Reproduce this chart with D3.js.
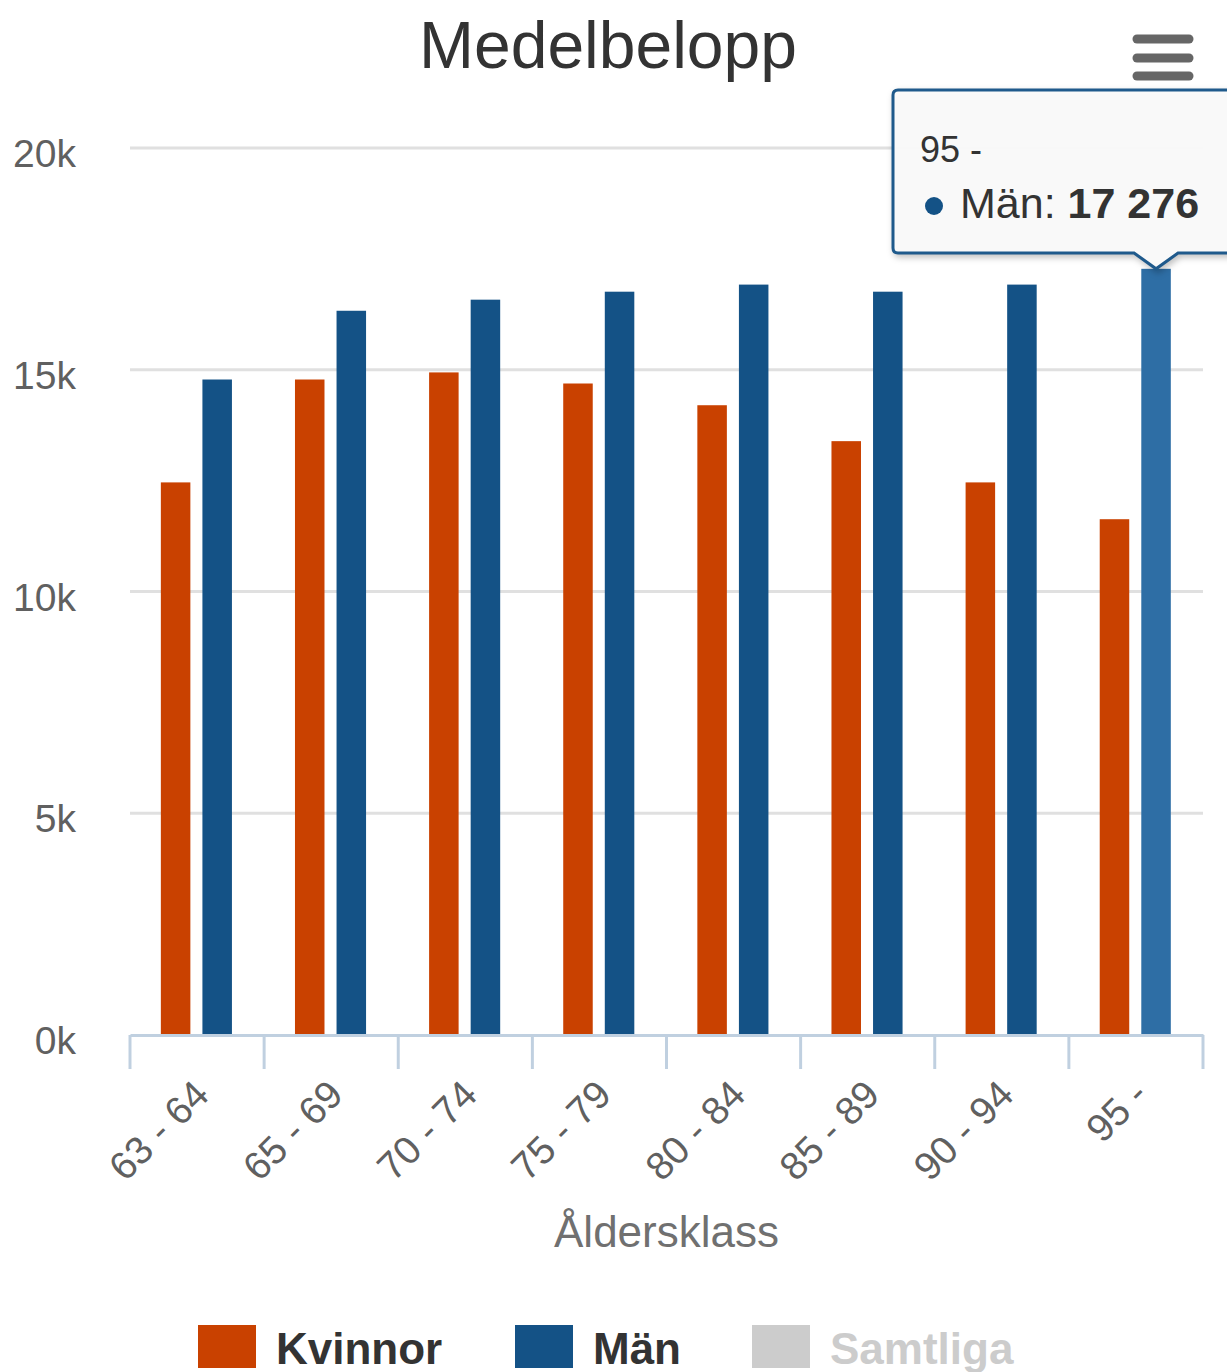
<!DOCTYPE html>
<html>
<head>
<meta charset="utf-8">
<script src="https://cdn.jsdelivr.net/npm/d3@7"></script>
<style>
    body { margin: 0; background: #fff; }
    svg { font-family: "Liberation Sans", Arial, Helvetica, sans-serif; }
</style>
</head>
<body>
<div id="chart"></div>
<script>
//Categories and values
const categories = ["63 - 64", "65 - 69", "70 - 74", "75 - 79", "80 - 84", "85 - 89", "90 - 94", "95 -"];
const kvinnor = [12460, 14780, 14940, 14690, 14200, 13390, 12460, 11630];
const man = [14780, 16330, 16580, 16760, 16920, 16760, 16920, 17276];
const seriesNames = ["Kvinnor", "Män", "Samtliga"];
const seriesColors = ["#c94100", "#145286", "#cccccc"];
const yTicks = [0, 5000, 10000, 15000, 20000];

function main() {
    const width = 1227, height = 1372;
    const margin = { top: 148, right: 24, bottom: 337, left: 130 };

    const svg = d3.select("#chart")
        .append("svg")
        .attr("width", width)
        .attr("height", height);

    //Title
    svg.append("text")
        .text("Medelbelopp")
        .attr("x", 608)
        .attr("y", 68)
        .attr("text-anchor", "middle")
        .attr("font-size", 66)
        .style("fill", "#333");

    //Menu icon
    [39, 58, 76].forEach(y => {
        svg.append("line")
            .attr("x1", 1137).attr("x2", 1189)
            .attr("y1", y).attr("y2", y)
            .attr("stroke", "#666")
            .attr("stroke-width", 9)
            .attr("stroke-linecap", "round");
    });

    const x = d3.scaleBand()
        .domain(categories)
        .range([margin.left, width - margin.right]);

    const x1 = d3.scaleBand()
        .domain([0, 1])
        .range([x.bandwidth() * 0.23, x.bandwidth() * 0.76])
        .paddingInner(0.29);

    const y = d3.scaleLinear()
        .domain([0, 20000])
        .range([height - margin.bottom, margin.top]);

    //Grid lines
    svg.append("g")
        .selectAll("line")
        .data(yTicks.slice(1))
        .enter()
        .append("line")
        .attr("x1", margin.left)
        .attr("x2", width - margin.right)
        .attr("y1", d => y(d))
        .attr("y2", d => y(d))
        .attr("stroke", "#e0e0e0")
        .attr("stroke-width", 3);

    //Y labels
    svg.append("g")
        .selectAll("text")
        .data(yTicks)
        .enter()
        .append("text")
        .text(d => (d / 1000) + "k")
        .attr("x", 76)
        .attr("y", d => y(d) + 19)
        .attr("text-anchor", "end")
        .attr("font-size", 39)
        .style("fill", "#606060");

    //Bars
    const data = categories.map((c, i) => ({ cat: c, values: [kvinnor[i], man[i]] }));
    const groups = svg.append("g")
        .selectAll("g")
        .data(data)
        .enter()
        .append("g")
        .attr("transform", d => "translate(" + x(d.cat) + ",0)");

    groups.selectAll("rect")
        .data((d, gi) => d.values.map((v, si) => ({ v: v, s: si, g: gi })))
        .enter()
        .append("rect")
        .attr("x", d => x1(d.s))
        .attr("width", x1.bandwidth())
        .attr("y", d => y(d.v))
        .attr("height", d => y(0) - y(d.v))
        .style("fill", d => (d.s == 1 && d.g == categories.length - 1) ? "#2e6ea5" : seriesColors[d.s]);

    //X axis
    const xAxis = d3.axisBottom(x).tickSize(0).tickFormat("");
    const axisG = svg.append("g")
        .attr("transform", "translate(0," + y(0) + ")")
        .call(xAxis);
    axisG.select(".domain").attr("stroke", "#c0d0e0").attr("stroke-width", 3);

    const bounds = categories.map(c => x(c)).concat([x.range()[1]]);
    svg.append("g")
        .selectAll("line")
        .data(bounds)
        .enter()
        .append("line")
        .attr("x1", d => d).attr("x2", d => d)
        .attr("y1", y(0)).attr("y2", y(0) + 34)
        .attr("stroke", "#c0d0e0")
        .attr("stroke-width", 3);

    svg.append("g")
        .selectAll("text")
        .data(categories)
        .enter()
        .append("text")
        .text(d => d)
        .attr("text-anchor", "end")
        .attr("font-size", 39)
        .style("fill", "#606060")
        .attr("transform", d => "translate(" + (x(d) + x.bandwidth() / 2 + 14) + "," + (y(0) + 62) + ") rotate(-45)");

    //Axis title
    svg.append("text")
        .text("Åldersklass")
        .attr("x", (margin.left + width - margin.right) / 2)
        .attr("y", 1247)
        .attr("text-anchor", "middle")
        .attr("font-size", 44)
        .style("fill", "#707070");

    //Legend
    const legendX = [198, 515, 752];
    const legend = svg.append("g")
        .selectAll("g")
        .data(seriesNames)
        .enter()
        .append("g")
        .attr("transform", (d, i) => "translate(" + legendX[i] + ",1325)");
    legend.append("rect")
        .attr("width", 58)
        .attr("height", 43)
        .style("fill", (d, i) => seriesColors[i]);
    legend.append("text")
        .text(d => d)
        .attr("x", 78)
        .attr("y", 39)
        .attr("font-size", 44)
        .attr("font-weight", "bold")
        .style("fill", (d, i) => i == 2 ? "#cccccc" : "#333");

    //Tooltip for the last Män bar
    const last = categories.length - 1;
    const px = x(categories[last]) + x1(1) + x1.bandwidth() / 2;
    const py = y(man[last]);
    const tip = svg.append("g");
    const tx = 893, ty = 90, tb = 253;
    tip.append("path")
        .attr("d", `M${tx + 5},${ty} H${width + 10} V${tb} H${px + 22} L${px},${py} L${px - 22},${tb} H${tx + 5} Q${tx},${tb} ${tx},${tb - 5} V${ty + 5} Q${tx},${ty} ${tx + 5},${ty} Z`)
        .attr("fill", "rgba(251,251,251,0.96)")
        .attr("stroke", "#1f5a8c")
        .attr("stroke-width", 3)
        .style("filter", "drop-shadow(2px 3px 3px rgba(0,0,0,0.25))");
    tip.append("text")
        .text(categories[last])
        .attr("x", 920)
        .attr("y", 162)
        .attr("font-size", 36)
        .style("fill", "#333");
    tip.append("circle")
        .attr("cx", 934).attr("cy", 206).attr("r", 9)
        .style("fill", seriesColors[1]);
    const t2 = tip.append("text")
        .attr("x", 960)
        .attr("y", 218)
        .attr("font-size", 43)
        .style("fill", "#333");
    t2.append("tspan").text("Män: ");
    t2.append("tspan").attr("font-weight", "bold").text(d3.format(",")(man[last]).replace(/,/g, " "));
}

window.addEventListener("load", main);
</script>
</body>
</html>
